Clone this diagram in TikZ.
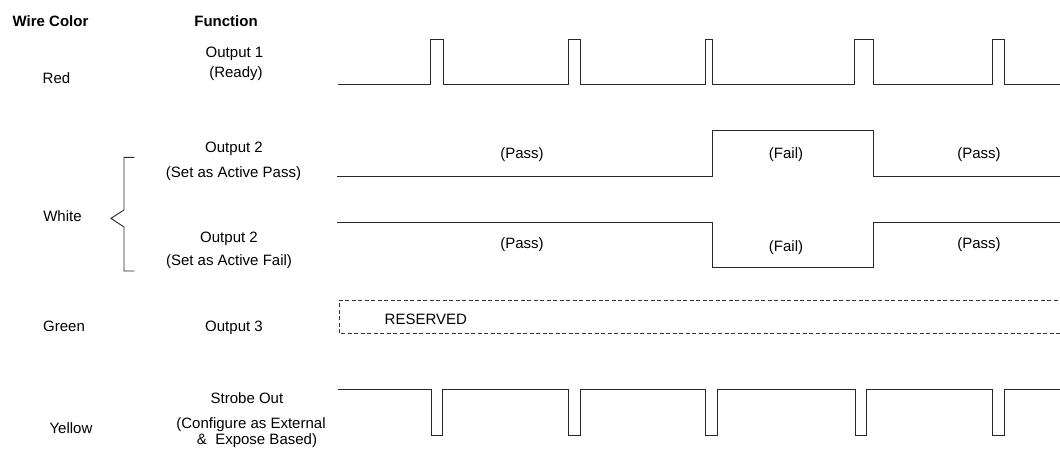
\documentclass[tikz,border=0pt]{standalone}
\usepackage{fontspec}
\setmainfont{Liberation Sans}
\usetikzlibrary{positioning}

\begin{document}
\begin{tikzpicture}[x=1pt, y=-1pt,
    lbl/.style = {inner sep=0pt, anchor=base, font=\fontsize{15}{18}\selectfont},
    head/.style = {lbl, font=\fontsize{15}{18}\selectfont\bfseries},
    tag/.style = {inner sep=0pt, font=\fontsize{15}{18}\selectfont},
    wave/.style = {draw=black!85, line width=0.9pt},
    resv/.style = {draw=black!80, line width=0.9pt, dashed, dash pattern=on 4pt off 2.5pt}]
    \useasboundingbox (0,0) rectangle (1060,448);

    % column heads
    \node (wire) [head] at (50.5,26) {Wire Color};
    \node (func) [head] at (226,26) {Function};

    % wire colours
    \node (red) [lbl] at (56.5,83) {Red};
    \node (white) [lbl] at (62.5,221.5) {White};
    \node (green) [lbl] at (64,331) {Green};
    \node (yellow) [lbl] at (71,433) {Yellow};

    % functions
    \node (out1) [lbl] at (234.5,57) {Output 1};
    \node (ready) [lbl] at (236,77) {(Ready)};
    \node (out2p) [lbl] at (234,152.5) {Output 2};
    \node (actp) [lbl] at (233.5,177) {(Set as Active Pass)};
    \node (out2f) [lbl] at (229,242.5) {Output 2};
    \node (actf) [lbl] at (229,265) {(Set as Active Fail)};
    \node (out3) [lbl] at (234,331) {Output 3};
    \node (strobe) [lbl] at (247,403) {Strobe Out};
    \node (conf) [lbl] at (251,428) {(Configure as External};
    \node (expo) [lbl] at (257,444.5) {\&\ \ Expose Based)};

    % brace for white
    \draw [wave] (134.3,157.3) -- (124,157.3) -- (124,210) -- (111,218.3)
      -- (124,227) -- (124,271) -- (134.3,271);

    % red: ready pulses
    \draw [wave] (338,84)
      \foreach \a/\b in {430.7/443.3, 568.3/580, 705.7/712.3, 854.7/873, 992.7/1004}
        { -- (\a,84) -- (\a,39) -- (\b,39) -- (\b,84) }
      -- (1060,84);

    % white: active pass
    \draw [wave] (337,176) -- (712.7,176) -- (712.7,130.7) -- (873,130.7)
      -- (873,176) -- (1060,176);
    \node (pass1) [tag] at (522,155) {(Pass)};
    \node (fail1) [tag] at (786,155) {(Fail)};
    \node (pass2) [tag] at (979,155) {(Pass)};

    % white: active fail
    \draw [wave] (337,222.3) -- (712.7,222.3) -- (712.7,267.7) -- (873,267.7)
      -- (873,222.3) -- (1060,222.3);
    \node (pass3) [tag] at (522,245) {(Pass)};
    \node (fail2) [tag] at (786,248) {(Fail)};
    \node (pass4) [tag] at (979,245) {(Pass)};

    % green: reserved
    \draw [resv] (1064,300) -- (339,300) -- (339,333.5) -- (1064,333.5);
    \node (resvd) [tag, anchor=west] at (384.5,319.5) {RESERVED};

    % yellow: strobe pulses
    \draw [wave] (338,389)
      \foreach \a/\b in {431/442.7, 568.4/580, 705.7/717.3, 855/866.3, 992.5/1004}
        { -- (\a,389) -- (\a,435) -- (\b,435) -- (\b,389) }
      -- (1060,389);
\end{tikzpicture}
\end{document}
